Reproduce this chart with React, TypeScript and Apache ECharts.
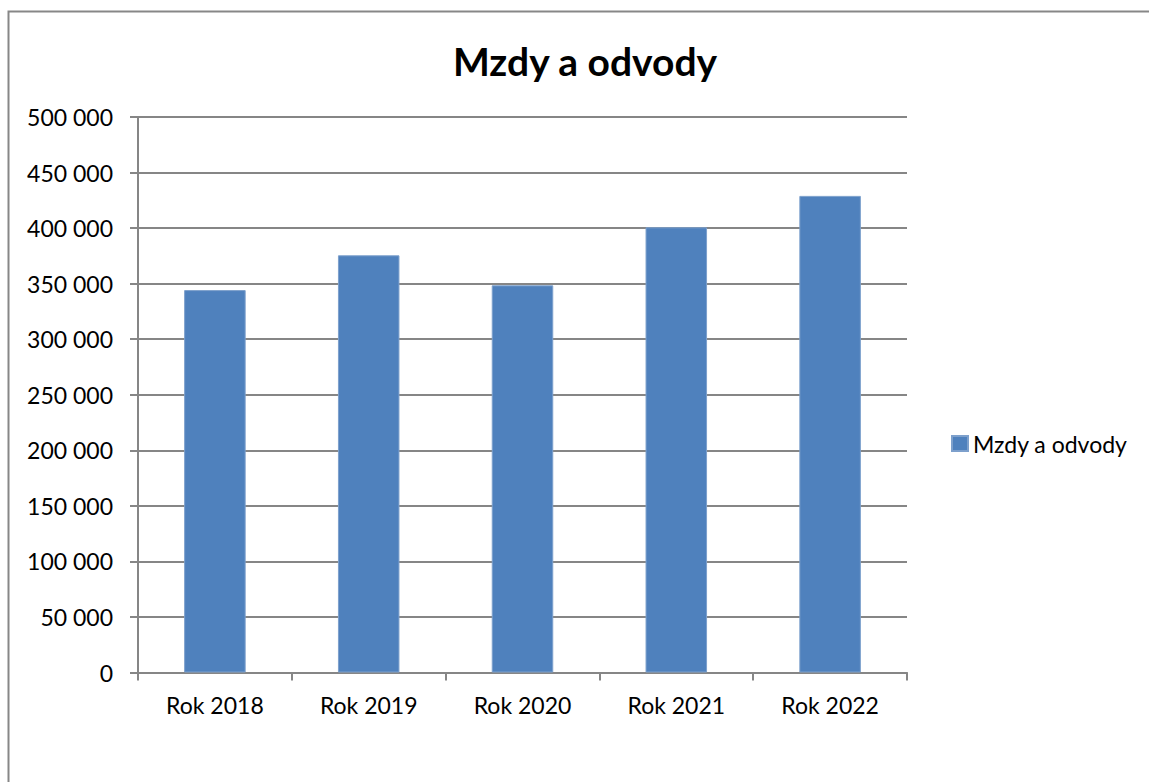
import React, { useEffect, useRef } from "react";
import * as echarts from "echarts";

const categories = ["Rok 2018", "Rok 2019", "Rok 2020", "Rok 2021", "Rok 2022"];
const wages = [344200, 375500, 348500, 400700, 429000];
const seriesName = "Mzdy a odvody";
const titleText = "Mzdy a odvody";

const fmt = (v: number) => String(v).replace(/\B(?=(\d{3})+(?!\d))/g, " ");
const FONT = "Lato";

export default function App() {
  const ref = useRef<HTMLDivElement>(null);
  useEffect(() => {
    if (!ref.current) return;
    const chart = echarts.init(ref.current, null, { renderer: "svg" });
    chart.setOption({
      animation: false,
      backgroundColor: "#ffffff",
      title: {
        text: titleText,
        left: 580,
        textAlign: "center",
        top: 36,
        textStyle: { fontFamily: FONT, fontSize: 39, fontWeight: "bold", color: "#000" },
      },
      legend: {
        left: 946,
        top: 427,
        orient: "vertical",
        itemWidth: 16,
        itemHeight: 15,
        itemGap: 6,
        icon: "rect",
        textStyle: { fontFamily: FONT, fontSize: 23, color: "#000" },
        data: [seriesName],
      },
      grid: { left: 138, right: 242, top: 117, bottom: 109.5, containLabel: false },
      xAxis: {
        type: "category",
        data: categories,
        axisLine: { show: true, lineStyle: { color: "#868686", width: 2 } },
        axisTick: { show: true, length: 8, alignWithLabel: false, lineStyle: { color: "#868686", width: 2 } },
        axisLabel: { margin: 21, fontFamily: FONT, fontSize: 23, color: "#000" },
      },
      yAxis: {
        type: "value",
        min: 0,
        max: 500000,
        interval: 50000,
        axisLine: { show: true, lineStyle: { color: "#868686", width: 2 } },
        axisTick: { show: true, length: 8, lineStyle: { color: "#868686", width: 2 } },
        splitLine: { show: true, lineStyle: { color: "#868686", width: 2 } },
        axisLabel: { margin: 25, fontFamily: FONT, fontSize: 23, color: "#000", formatter: (v: number) => fmt(v) },
      },
      series: [
        {
          name: seriesName,
          type: "bar",
          data: wages,
          barWidth: "40%",
          itemStyle: { color: "#4F81BD", borderColor: "#7da0cc", borderWidth: 1 },
        },
      ],
      graphic: [
        {
          type: "rect",
          shape: { x: 8.5, y: 11.5, width: 1200, height: 800 },
          style: { fill: "none", stroke: "#878787", lineWidth: 2 },
          silent: true,
        },
      ],
    });
    return () => chart.dispose();
  }, []);
  return (
    <div
      ref={ref}
      style={{ position: "fixed", left: 0, top: 0, width: 1149, height: 782, background: "#fff" }}
    />
  );
}
